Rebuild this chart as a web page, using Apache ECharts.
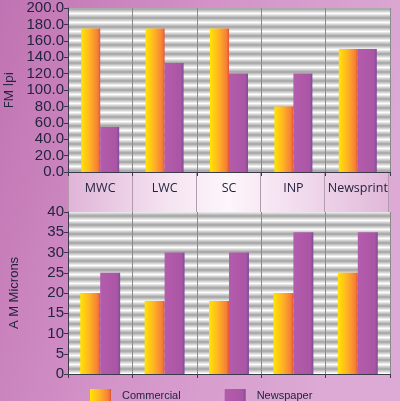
<!DOCTYPE html>
<html>
<head>
<meta charset="utf-8">
<script src="https://cdn.jsdelivr.net/npm/echarts@6/dist/echarts.min.js"></script>
<style>
html,body{margin:0;padding:0;background:#c47cb6;}
#chart{width:400px;height:401px;}
</style>
</head>
<body>
<div id="chart"></div>
<script>
// ---- data ----
const categories = ['MWC', 'LWC', 'SC', 'INP', 'Newsprint'];
const seriesNames = ['Commercial', 'Newspaper'];
const fmCommercial = [175, 175, 175, 80, 150];
const fmNewspaper = [55, 133, 120, 120, 150];
const amCommercial = [20, 18, 18, 20, 25];
const amNewspaper = [25, 30, 30, 35, 35];
const fmTicks = { min: 0, max: 200, interval: 20 };
const amTicks = { min: 0, max: 40, interval: 5 };

// ---- metallic stripe pattern ----
const pc = document.createElement('canvas');
pc.width = 4; pc.height = 9;
const pctx = pc.getContext('2d');
const pg = pctx.createLinearGradient(0, 0, 0, 9);
pg.addColorStop(0, '#a2a2a2');
pg.addColorStop(0.35, '#e4e4e4');
pg.addColorStop(0.5, '#ffffff');
pg.addColorStop(0.68, '#dadada');
pg.addColorStop(1, '#a2a2a2');
pctx.fillStyle = pg;
pctx.fillRect(0, 0, 4, 9);
const stripe = { image: pc, repeat: 'repeat' };

const commercialColor = new echarts.graphic.LinearGradient(0, 0, 1, 0, [
  { offset: 0, color: '#ffe400' },
  { offset: 0.45, color: '#ffb424' },
  { offset: 0.88, color: '#f57e36' },
  { offset: 1, color: '#e2503a' }
]);
const newspaperColor = new echarts.graphic.LinearGradient(0, 0, 1, 0, [
  { offset: 0, color: '#b45cac' },
  { offset: 0.85, color: '#aa56a4' },
  { offset: 1, color: '#7c4c98' }
]);

const txt = '#24243f';
const tickFont = 'Liberation Sans, Arial, sans-serif';

const chart = echarts.init(document.getElementById('chart'), null, { renderer: 'canvas' });
chart.setOption({
  animation: false,
  backgroundColor: new echarts.graphic.LinearGradient(0, 0, 1, 0.3, [
    { offset: 0, color: '#c073b2' },
    { offset: 0.5, color: '#d393c8' },
    { offset: 1, color: '#dcaad4' }
  ]),
  grid: [
    { left: 68, right: 10, top: 8, height: 164, show: true, backgroundColor: stripe, borderWidth: 0, outerBoundsMode: 'none', containLabel: false },
    { left: 68, right: 12, top: 172, height: 40, show: true, borderWidth: 0, outerBoundsMode: 'none', containLabel: false,
      backgroundColor: new echarts.graphic.LinearGradient(0, 0, 1, 0, [
        { offset: 0, color: '#e0b4d8' },
        { offset: 0.3, color: '#f4e2f0' },
        { offset: 0.5, color: '#fdf6fb' },
        { offset: 0.75, color: '#f0d8ec' },
        { offset: 1, color: '#e2b8da' }
      ]) },
    { left: 68, right: 10, top: 212, height: 162, show: true, backgroundColor: stripe, borderWidth: 0, outerBoundsMode: 'none', containLabel: false }
  ],
  legend: {
    data: seriesNames,
    left: 85, top: 384,
    itemWidth: 21, itemHeight: 14, itemGap: 44,
    icon: 'rect',
    textStyle: { color: txt, fontSize: 11, fontFamily: 'Liberation Sans, Arial, sans-serif', padding: [0, 0, 0, 6] }
  },
  xAxis: [
    { type: 'category', gridIndex: 0, data: categories,
      axisLine: { show: true, lineStyle: { color: '#3a3a4a', width: 1 } },
      axisTick: { show: true, interval: 0, length: 4, lineStyle: { color: '#3a3a4a' } },
      axisLabel: { interval: 0, color: txt, fontSize: 12.5, fontFamily: 'Open Sans, Noto Sans, sans-serif', margin: 10 },
      splitLine: { show: true, interval: 0, lineStyle: { color: '#8a8a8a', width: 1 } } },
    { type: 'category', gridIndex: 1, data: categories,
      axisLine: { show: false }, axisTick: { show: false }, axisLabel: { show: false },
      splitLine: { show: true, interval: 0, lineStyle: { color: '#b49aae', width: 1 } } },
    { type: 'category', gridIndex: 2, data: categories,
      axisLine: { show: true, lineStyle: { color: '#3a3a4a', width: 1 } },
      axisTick: { show: true, interval: 0, length: 4, lineStyle: { color: '#3a3a4a' } },
      axisLabel: { show: false },
      splitLine: { show: true, interval: 0, lineStyle: { color: '#8a8a8a', width: 1 } } }
  ],
  yAxis: [
    { type: 'value', gridIndex: 0, min: fmTicks.min, max: fmTicks.max, interval: fmTicks.interval,
      name: 'FM lpi', nameLocation: 'middle', nameGap: 47, nameRotate: 90,
      nameTextStyle: { color: txt, fontSize: 13, fontFamily: 'Open Sans, Noto Sans, sans-serif' },
      axisLine: { show: true, lineStyle: { color: '#3a3a4a' } },
      axisTick: { show: true, length: 4, lineStyle: { color: '#3a3a4a' } },
      axisLabel: { color: txt, fontSize: 15, fontFamily: tickFont, margin: 4, formatter: v => v.toFixed(1) },
      splitLine: { show: false } },
    { type: 'value', gridIndex: 1, show: false, splitLine: { show: false } },
    { type: 'value', gridIndex: 2, min: amTicks.min, max: amTicks.max, interval: amTicks.interval,
      name: 'A M Microns', nameLocation: 'middle', nameGap: 47, nameRotate: 90,
      nameTextStyle: { color: txt, fontSize: 13, fontFamily: tickFont },
      axisLine: { show: true, lineStyle: { color: '#3a3a4a' } },
      axisTick: { show: true, length: 4, lineStyle: { color: '#3a3a4a' } },
      axisLabel: { color: txt, fontSize: 15, fontFamily: tickFont, margin: 4 },
      splitLine: { show: false } }
  ],
  series: [
    { name: seriesNames[0], type: 'bar', xAxisIndex: 0, yAxisIndex: 0, data: fmCommercial,
      barGap: '0%', barCategoryGap: '41%', itemStyle: { color: commercialColor } },
    { name: seriesNames[1], type: 'bar', xAxisIndex: 0, yAxisIndex: 0, data: fmNewspaper,
      barGap: '0%', barCategoryGap: '41%', itemStyle: { color: newspaperColor } },
    { name: seriesNames[0], type: 'bar', xAxisIndex: 2, yAxisIndex: 2, data: amCommercial,
      barGap: '0%', barCategoryGap: '38%', itemStyle: { color: commercialColor } },
    { name: seriesNames[1], type: 'bar', xAxisIndex: 2, yAxisIndex: 2, data: amNewspaper,
      barGap: '0%', barCategoryGap: '38%', itemStyle: { color: newspaperColor } }
  ]
});
</script>
</body>
</html>
